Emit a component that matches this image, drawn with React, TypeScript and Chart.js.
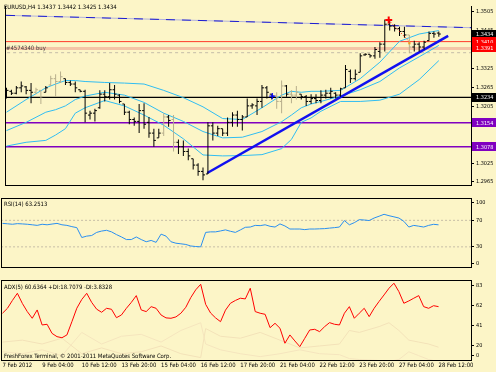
import React, { useEffect, useRef } from 'react';
import { Chart, registerables } from 'chart.js';

Chart.register(...registerables);

// ---------------- data ----------------
const headerText = 'EURUSD,H4 1.3437 1.3442 1.3425 1.3434';
const orderText = '#4574340 buy';
const rsiTitle = 'RSI(14) 63.2513';
const adxTitle = 'ADX(5) 60.6364 +DI:18.7079 -DI:3.8328';
const copyrightText = 'FreshForex Terminal, \u00A9 2001-2011 MetaQuotes Software Corp.';

const timeTickIdx = [0, 8, 16, 24, 32, 40, 48, 56, 64, 72, 80, 88];
const timeTickLabels = ['7 Feb 2012', '9 Feb 04:00', '10 Feb 12:00', '13 Feb 20:00', '15 Feb 04:00', '16 Feb 12:00', '17 Feb 20:00', '21 Feb 04:00', '22 Feb 12:00', '23 Feb 20:00', '27 Feb 04:00', '28 Feb 12:00'];

const priceTicks = [1.2965, 1.3025, 1.3085, 1.3145, 1.3205, 1.3265, 1.3325, 1.3385, 1.3445, 1.3505];
const rsiTicks = [0, 30, 70, 100];
const adxTicks = [0, 20, 41, 62, 83];

const barHigh = [
  1.3264, 1.3258, 1.3270, 1.3284, 1.3270, 1.3279, 1.3264, 1.3256, 1.3270, 1.3302,
  1.3307, 1.3316, 1.3293, 1.3287, 1.3284, 1.3258, 1.3258, 1.3192, 1.3198, 1.3256,
  1.3256, 1.3279, 1.3273, 1.3244, 1.3213, 1.3192, 1.3170, 1.3213, 1.3215, 1.3172,
  1.3135, 1.3135, 1.3184, 1.3178, 1.3178, 1.3101, 1.3098, 1.3072, 1.3040, 1.3026,
  1.3012, 1.3155, 1.3155, 1.3144, 1.3135, 1.3170, 1.3187, 1.3192, 1.3178, 1.3230,
  1.3215, 1.3230, 1.3273, 1.3270, 1.3244, 1.3250, 1.3287, 1.3273, 1.3256, 1.3270,
  1.3244, 1.3241, 1.3244, 1.3244, 1.3256, 1.3258, 1.3264, 1.3250, 1.3264, 1.3336,
  1.3322, 1.3322, 1.3373, 1.3373, 1.3370, 1.3393, 1.3408, 1.3480, 1.3480, 1.3465,
  1.3457, 1.3457, 1.3431, 1.3413, 1.3408, 1.3413, 1.3442, 1.3442, 1.3442,
];
const barLow = [
  1.3230, 1.3241, 1.3244, 1.3250, 1.3244, 1.3215, 1.3244, 1.3213, 1.3250, 1.3270,
  1.3236, 1.3279, 1.3273, 1.3270, 1.3250, 1.3250, 1.3155, 1.3164, 1.3158, 1.3198,
  1.3221, 1.3227, 1.3227, 1.3215, 1.3178, 1.3149, 1.3144, 1.3121, 1.3135, 1.3106,
  1.3078, 1.3106, 1.3112, 1.3141, 1.3063, 1.3055, 1.3049, 1.3035, 1.3006, 1.2986,
  1.2972, 1.2992, 1.3098, 1.3112, 1.3112, 1.3112, 1.3141, 1.3141, 1.3129, 1.3172,
  1.3198, 1.3178, 1.3201, 1.3230, 1.3227, 1.3198, 1.3184, 1.3236, 1.3215, 1.3227,
  1.3227, 1.3207, 1.3213, 1.3215, 1.3215, 1.3230, 1.3230, 1.3230, 1.3236, 1.3264,
  1.3279, 1.3287, 1.3313, 1.3365, 1.3359, 1.3356, 1.3359, 1.3379, 1.3445, 1.3442,
  1.3428, 1.3422, 1.3373, 1.3379, 1.3379, 1.3385, 1.3413, 1.3422, 1.3425,
];
const barOpen = [
  1.3250, 1.3253, 1.3247, 1.3264, 1.3267, 1.3256, 1.3250, 1.3256, 1.3250, 1.3273,
  1.3293, 1.3284, 1.3293, 1.3281, 1.3276, 1.3258, 1.3253, 1.3178, 1.3184, 1.3201,
  1.3244, 1.3236, 1.3258, 1.3241, 1.3213, 1.3187, 1.3164, 1.3158, 1.3192, 1.3155,
  1.3121, 1.3106, 1.3121, 1.3172, 1.3164, 1.3092, 1.3078, 1.3063, 1.3040, 1.3020,
  1.3000, 1.2992, 1.3144, 1.3121, 1.3135, 1.3121, 1.3155, 1.3178, 1.3164, 1.3172,
  1.3207, 1.3207, 1.3221, 1.3264, 1.3244, 1.3238, 1.3221, 1.3270, 1.3244, 1.3241,
  1.3244, 1.3236, 1.3221, 1.3230, 1.3224, 1.3241, 1.3247, 1.3247, 1.3241, 1.3264,
  1.3316, 1.3293, 1.3313, 1.3368, 1.3370, 1.3365, 1.3379, 1.3402, 1.3465, 1.3459,
  1.3451, 1.3442, 1.3431, 1.3393, 1.3402, 1.3393, 1.3413, 1.3436, 1.3437,
];
const barClose = [
  1.3256, 1.3247, 1.3264, 1.3270, 1.3256, 1.3250, 1.3258, 1.3236, 1.3264, 1.3293,
  1.3284, 1.3299, 1.3281, 1.3276, 1.3264, 1.3253, 1.3184, 1.3184, 1.3192, 1.3244,
  1.3236, 1.3258, 1.3244, 1.3221, 1.3187, 1.3164, 1.3158, 1.3192, 1.3149, 1.3121,
  1.3098, 1.3121, 1.3172, 1.3161, 1.3092, 1.3078, 1.3063, 1.3049, 1.3020, 1.3000,
  1.2989, 1.3144, 1.3121, 1.3135, 1.3121, 1.3155, 1.3178, 1.3164, 1.3172, 1.3207,
  1.3210, 1.3221, 1.3264, 1.3250, 1.3238, 1.3221, 1.3270, 1.3244, 1.3241, 1.3250,
  1.3236, 1.3221, 1.3230, 1.3224, 1.3241, 1.3247, 1.3253, 1.3241, 1.3261, 1.3322,
  1.3293, 1.3307, 1.3365, 1.3370, 1.3365, 1.3385, 1.3402, 1.3465, 1.3459, 1.3451,
  1.3442, 1.3431, 1.3393, 1.3402, 1.3393, 1.3408, 1.3436, 1.3434, 1.3434,
];
const fadedBars = [6, 7, 9, 10, 11, 32, 34, 55, 56, 58, 59, 82];

const bbIdx = [0, 4, 8, 10, 12, 14, 16, 20, 24, 28, 32, 36, 40, 44, 48, 52, 56, 58, 60, 62, 64, 68, 72, 76, 80, 84, 88];
const bbUpper = [1.3187, 1.3227, 1.3264, 1.3276, 1.3287, 1.3287, 1.3284, 1.3281, 1.3279, 1.3276, 1.3256, 1.3233, 1.3204, 1.3167, 1.3164, 1.3201, 1.3241, 1.3253, 1.3250, 1.3253, 1.3253, 1.3256, 1.3293, 1.3345, 1.3411, 1.3434, 1.3445];
const bbMiddle = [1.3129, 1.3155, 1.3187, 1.3195, 1.3207, 1.3227, 1.3238, 1.3250, 1.3241, 1.3218, 1.3184, 1.3158, 1.3126, 1.3106, 1.3108, 1.3126, 1.3157, 1.3178, 1.3201, 1.3213, 1.3221, 1.3238, 1.3258, 1.3284, 1.3327, 1.3362, 1.3398];
const bbLower = [1.3080, 1.3092, 1.3098, 1.3115, 1.3135, 1.3184, 1.3201, 1.3224, 1.3207, 1.3178, 1.3146, 1.3103, 1.3052, 1.3049, 1.3050, 1.3053, 1.3072, 1.3101, 1.3155, 1.3169, 1.3190, 1.3221, 1.3221, 1.3225, 1.3244, 1.3290, 1.3350];

const levelRed = 1.3410;
const levelTrade = 1.3388;
const levelStop = 1.3375;
const levelBlack = 1.3234;
const levelPurple = [1.3154, 1.3078];
const trendThickIdx = [40.87, 89.9];
const trendThickPrice = [1.2995, 1.3428];
const trendDashIdx = [-0.1, 94.55];
const trendDashPrice = [1.3493, 1.3454];

const priceTagValues = [1.3434, 1.3410, 1.3391, 1.3234, 1.3154, 1.3078];
const priceTagColors = ['#000000', '#ff0000', '#ff0000', '#000000', '#8000c0', '#8000c0'];

const buyMark = { x: 54.1, y: 1.3238 };
const closeMark = { x: 77.8, y: 1.3478 };
const closeLineIdx = [78.2, 81.8];
const closeLinePrice = [1.3471, 1.3413];
const closePriceMark = { x: 82, y: 1.3405 };

const rsi = [
  65.4, 64.8, 64.1, 65.0, 64.6, 64.1, 63.3, 62.4, 64.1, 63.3,
  64.4, 65.4, 63.3, 62.4, 60.5, 59.0, 44.1, 46.2, 47.1, 51.8,
  53.8, 55.0, 52.6, 48.5, 45.0, 41.0, 41.0, 44.9, 41.0, 37.7,
  39.7, 36.8, 49.2, 46.2, 37.7, 35.5, 34.6, 33.6, 31.3, 30.5,
  30.0, 51.8, 52.6, 52.6, 54.0, 55.6, 53.5, 51.8, 55.5, 59.5,
  59.9, 62.4, 62.0, 63.3, 61.0, 59.9, 64.6, 61.5, 56.9, 56.9,
  56.9, 56.0, 56.9, 56.9, 57.2, 57.5, 58.3, 59.0, 59.9, 69.7,
  63.3, 66.5, 71.0, 70.5, 69.7, 73.5, 76.2, 79.1, 77.0, 75.3,
  73.5, 68.5, 59.9, 62.4, 61.2, 59.9, 62.4, 64.0, 63.25,
];
const rsiLevels = [30, 70];

const adx = [
  53.8, 58.9, 67.0, 74.4, 64.0, 55.5, 48.6, 57.2, 41.7, 42.4,
  33.0, 29.6, 28.5, 31.4, 45.0, 59.0, 68.0, 74.4, 65.0, 58.0,
  54.8, 58.9, 57.9, 49.2, 52.0, 58.9, 65.0, 72.0, 57.2, 55.5,
  60.6, 58.9, 52.0, 49.0, 48.6, 50.0, 53.8, 60.0, 70.0, 78.0,
  83.7, 63.0, 54.0, 49.0, 45.1, 57.0, 64.1, 67.0, 69.3, 68.6,
  79.6, 55.5, 53.8, 52.7, 38.9, 43.4, 38.3, 22.8, 31.4, 25.2,
  19.3, 27.9, 36.5, 37.2, 34.8, 39.9, 44.1, 42.4, 41.7, 53.8,
  60.6, 48.6, 53.8, 58.9, 50.3, 58.9, 66.0, 72.7, 79.6, 84.8,
  76.1, 64.1, 66.5, 69.3, 72.0, 60.6, 58.9, 61.6, 60.6,
];
const diIdx = [0, 4, 8, 12, 16, 20, 24, 28, 32, 36, 40, 41, 44, 48, 52, 56, 60, 64, 68, 70, 72, 76, 78, 80, 82, 84, 86, 88];
const plusDI = [24, 26, 22, 28, 12, 18, 12, 14, 20, 12, 8, 38, 30, 28, 34, 26, 18, 20, 22, 36, 34, 40, 44, 36, 26, 24, 22, 18.7];
const minusDI = [14, 12, 16, 10, 34, 22, 30, 32, 24, 36, 44, 22, 16, 12, 9, 12, 16, 12, 11, 7, 6, 5, 4, 6, 14, 10, 6, 3.8];

// ---------------- layout / style ----------------
const BG = '#fcf5c7';
const FADED = '#b7ae8c';
const BAND = '#30bdf2';
const X_MIN = -0.1;
const X_MAX = 94.55;
const PRICE_MIN = 1.29571;
const PRICE_MAX = 1.35225;
const RSI_MIN = -0.4;
const RSI_MAX = 102.2;
const ADX_MIN = 5.5;
const ADX_MAX = 87.1;

function detectFont() {
  const c = document.createElement('canvas').getContext('2d') as CanvasRenderingContext2D;
  const sample = headerText;
  c.font = '10px monospace';
  const mono = c.measureText(sample).width;
  const cands = ['Liberation Sans Narrow', 'Arial Narrow', 'DejaVu Sans Condensed', 'Liberation Sans'];
  for (const f of cands) {
    c.font = `10px "${f}", monospace`;
    const w1 = c.measureText(sample).width;
    c.font = `10px "${f}", serif`;
    const w2 = c.measureText(sample).width;
    if (Math.abs(w1 - w2) < 0.01 && Math.abs(w1 - mono) > 0.5) {
      return { family: `"${f}", sans-serif`, size: Math.max(5.5, Math.min(8, (10 * 113) / w1)) };
    }
  }
  return { family: 'sans-serif', size: 7 };
}

function framePlugin(top: boolean) {
  return {
    id: 'panelFrame',
    afterDraw(chart: any) {
      const { ctx, chartArea: a } = chart;
      ctx.save();
      ctx.strokeStyle = '#000';
      ctx.lineWidth = 1;
      ctx.beginPath();
      ctx.moveTo(a.left - 0.5, a.top - (top ? 1 : 0));
      ctx.lineTo(a.left - 0.5, a.bottom + 1);
      if (top) {
        ctx.moveTo(a.left - 1, a.top - 0.5);
        ctx.lineTo(a.right + 1, a.top - 0.5);
      }
      ctx.moveTo(a.left - 1, a.bottom + 0.5);
      ctx.lineTo(a.right + 1, a.bottom + 0.5);
      ctx.stroke();
      ctx.restore();
    },
  };
}

function xAxis(show: boolean, ft: any) {
  return {
    type: 'linear',
    display: show,
    min: X_MIN,
    max: X_MAX,
    offset: false,
    afterBuildTicks: (s: any) => {
      s.ticks = timeTickIdx.map((v) => ({ value: v }));
    },
    afterFit: (s: any) => {
      s.height = 12;
      s.paddingLeft = 0;
      s.paddingRight = 0;
    },
    ticks: {
      autoSkip: false,
      maxRotation: 0,
      minRotation: 0,
      align: 'start',
      padding: 2,
      color: '#000',
      font: { family: ft.family, size: ft.size },
      callback: (_v: any, i: number) => timeTickLabels[i],
    },
    grid: { display: false, drawTicks: false, offset: false },
    border: { display: false },
  };
}

function yAxis(min: number, max: number, values: number[], fmt: (v: number) => string, panelPx: number, ft: any) {
  const margin = (4.2 * (max - min)) / panelPx;
  return {
    type: 'linear',
    position: 'right',
    min,
    max,
    afterBuildTicks: (s: any) => {
      s.ticks = values.map((v) => ({ value: Math.min(max - margin, Math.max(min + margin, v)) }));
    },
    afterFit: (s: any) => {
      s.width = 25;
      s.paddingTop = 0;
      s.paddingBottom = 0;
    },
    ticks: {
      autoSkip: false,
      padding: 2,
      color: '#000',
      font: { family: ft.family, size: ft.size * 0.93 },
      callback: (_v: any, i: number) => fmt(values[i]),
    },
    grid: { drawOnChartArea: false, drawTicks: true, tickLength: 3, color: '#000' },
    border: { display: true, color: '#000', width: 1 },
  };
}

function seg(xs: number[], ys: number[], color: string, width: number, order: number, dash: number[] = []) {
  return {
    type: 'line',
    data: xs.map((x, i) => ({ x, y: ys[i] })),
    borderColor: color,
    borderWidth: width,
    borderDash: dash,
    pointRadius: 0,
    fill: false,
    tension: 0,
    order,
  };
}

function hline(v: number, color: string, width: number, order: number, dash: number[] = []) {
  return seg([X_MIN - 1, X_MAX + 1], [v, v], color, width, order, dash);
}

const baseOptions = {
  responsive: false,
  animation: false,
  devicePixelRatio: 1,
  events: [],
  plugins: { legend: { display: false }, tooltip: { enabled: false } },
};

export default function App() {
  const mainRef = useRef<HTMLCanvasElement>(null);
  const rsiRef = useRef<HTMLCanvasElement>(null);
  const adxRef = useRef<HTMLCanvasElement>(null);

  useEffect(() => {
    const ft = detectFont();
    const fontStr = (k: number) => `${(ft.size * k).toFixed(2)}px ${ft.family}`;
    const idx = barHigh.map((_, i) => i);
    const barColor = idx.map((i) => (fadedBars.includes(i) ? FADED : '#000000'));

    const mainOverlay = {
      id: 'mainOverlay',
      afterDraw(chart: any) {
        const { ctx, chartArea: a } = chart;
        const ys = chart.scales.y;
        ctx.save();
        ctx.textBaseline = 'middle';
        ctx.textAlign = 'left';
        ctx.font = fontStr(1);
        ctx.fillStyle = '#000';
        ctx.fillText(headerText, 4, 7.5);
        ctx.fillStyle = '#3c3c3c';
        ctx.fillText(orderText, 6, 48);
        ctx.font = fontStr(0.93);
        priceTagValues.forEach((v, k) => {
          const py = ys.getPixelForValue(v);
          ctx.fillStyle = priceTagColors[k];
          ctx.fillRect(a.right + 1, Math.round(py - 4.5), 25, 9);
          ctx.fillStyle = '#ffffff';
          ctx.fillText(v.toFixed(4), a.right + 5, py + 0.5);
        });
        ctx.restore();
      },
    };

    const mainChart = new Chart(mainRef.current as HTMLCanvasElement, {
      type: 'line',
      data: {
        datasets: [
          {
            type: 'line',
            data: [buyMark],
            showLine: false,
            pointStyle: 'cross',
            pointRadius: 3,
            pointBorderWidth: 1.2,
            pointBorderColor: '#0000ff',
            order: 0,
          },
          {
            type: 'line',
            data: [closeMark],
            showLine: false,
            pointStyle: 'cross',
            pointRadius: 3.5,
            pointBorderWidth: 2,
            pointBorderColor: '#ff0000',
            order: 0,
          },
          {
            type: 'line',
            data: [closePriceMark],
            showLine: false,
            pointStyle: 'rect',
            pointRadius: 1.6,
            pointBorderWidth: 0,
            pointBackgroundColor: '#f0a020',
            order: 0,
          },
          seg(closeLineIdx, closeLinePrice, '#ff0000', 1, 0, [1, 2]),
          {
            type: 'line',
            data: idx.map((i) => ({ x: i, y: barOpen[i] })),
            showLine: false,
            pointStyle: 'dash',
            pointRadius: 2,
            pointRotation: 180,
            pointBorderWidth: 1,
            pointBorderColor: barColor,
            pointBackgroundColor: barColor,
            order: 1,
          },
          {
            type: 'line',
            data: idx.map((i) => ({ x: i, y: barClose[i] })),
            showLine: false,
            pointStyle: 'dash',
            pointRadius: 2,
            pointRotation: 0,
            pointBorderWidth: 1,
            pointBorderColor: barColor,
            pointBackgroundColor: barColor,
            order: 1,
          },
          {
            type: 'bar',
            data: idx.map((i) => ({ x: i, y: [barLow[i], barHigh[i]] })),
            backgroundColor: barColor,
            borderWidth: 0,
            barThickness: 1,
            inflateAmount: 0,
            order: 2,
          },
          seg(trendThickIdx, trendThickPrice, '#1010f0', 2.5, 3),
          seg(bbIdx, bbUpper, BAND, 1, 4),
          seg(bbIdx, bbMiddle, BAND, 1, 4),
          seg(bbIdx, bbLower, BAND, 1, 4),
          hline(levelBlack, '#000000', 1.3, 5),
          hline(levelPurple[0], '#8000c0', 1.5, 5),
          hline(levelPurple[1], '#8000c0', 1.5, 5),
          hline(levelRed, '#ff3a2a', 1, 5),
          hline(levelStop, '#c4bca8', 1, 6, [3, 3]),
          hline(levelTrade, '#f4c4a6', 3, 6),
          seg(trendDashIdx, trendDashPrice, '#1c1cd0', 1, 7, [9, 7]),
          seg(trendDashIdx, trendDashPrice, '#b2b2dc', 1, 8),
        ],
      },
      options: {
        ...baseOptions,
        layout: { padding: { left: 2, right: 0, top: 0, bottom: 1 } },
        scales: {
          x: xAxis(false, ft),
          y: yAxis(PRICE_MIN, PRICE_MAX, priceTicks, (v) => v.toFixed(4), 197, ft),
        },
      },
      plugins: [framePlugin(false), mainOverlay],
    } as any);

    const rsiOverlay = {
      id: 'rsiOverlay',
      afterDraw(chart: any) {
        const { ctx } = chart;
        ctx.save();
        ctx.textBaseline = 'middle';
        ctx.textAlign = 'left';
        ctx.font = fontStr(1);
        ctx.fillStyle = '#000';
        ctx.fillText(rsiTitle, 4, 6);
        ctx.restore();
      },
    };

    const rsiChart = new Chart(rsiRef.current as HTMLCanvasElement, {
      type: 'line',
      data: {
        datasets: [
          {
            type: 'line',
            data: rsi.map((v, i) => ({ x: i, y: v })),
            borderColor: '#2a8ff0',
            borderWidth: 1,
            pointRadius: 0,
            tension: 0,
            order: 0,
          },
          hline(rsiLevels[0], '#c6bea6', 1, 1, [2, 2]),
          hline(rsiLevels[1], '#c6bea6', 1, 1, [2, 2]),
        ],
      },
      options: {
        ...baseOptions,
        layout: { padding: { left: 2, right: 0, top: 1, bottom: 1 } },
        scales: {
          x: xAxis(false, ft),
          y: yAxis(RSI_MIN, RSI_MAX, rsiTicks, (v) => String(v), 80, ft),
        },
      },
      plugins: [framePlugin(true), rsiOverlay],
    } as any);

    const adxOverlay = {
      id: 'adxOverlay',
      afterDraw(chart: any) {
        const { ctx } = chart;
        ctx.save();
        ctx.textBaseline = 'middle';
        ctx.textAlign = 'left';
        ctx.font = fontStr(1);
        ctx.fillStyle = '#000';
        ctx.fillText(adxTitle, 4, 7);
        ctx.fillText(copyrightText, 4, 76);
        ctx.restore();
      },
    };

    const adxChart = new Chart(adxRef.current as HTMLCanvasElement, {
      type: 'line',
      data: {
        datasets: [
          {
            type: 'line',
            data: adx.map((v, i) => ({ x: i, y: v })),
            borderColor: '#ff0000',
            borderWidth: 1,
            pointRadius: 0,
            tension: 0,
            order: 0,
          },
          seg(diIdx, plusDI, '#f3e2b9', 1, 1),
          seg(diIdx, minusDI, '#f5e5be', 1, 1),
        ],
      },
      options: {
        ...baseOptions,
        layout: { padding: { left: 2, right: 0, top: 1, bottom: 0 } },
        scales: {
          x: xAxis(true, ft),
          y: yAxis(ADX_MIN, ADX_MAX, adxTicks, (v) => String(v), 79, ft),
        },
      },
      plugins: [framePlugin(true), adxOverlay],
    } as any);

    return () => {
      mainChart.destroy();
      rsiChart.destroy();
      adxChart.destroy();
    };
  }, []);

  return (
    <div style={{ position: 'fixed', left: 0, top: 0, width: 496, height: 372, background: BG, overflow: 'hidden' }}>
      <canvas ref={mainRef} width={496} height={198} style={{ position: 'absolute', left: 0, top: 0, width: 496, height: 198 }} />
      <canvas ref={rsiRef} width={496} height={82} style={{ position: 'absolute', left: 0, top: 198, width: 496, height: 82 }} />
      <canvas ref={adxRef} width={496} height={92} style={{ position: 'absolute', left: 0, top: 280, width: 496, height: 92 }} />
    </div>
  );
}
